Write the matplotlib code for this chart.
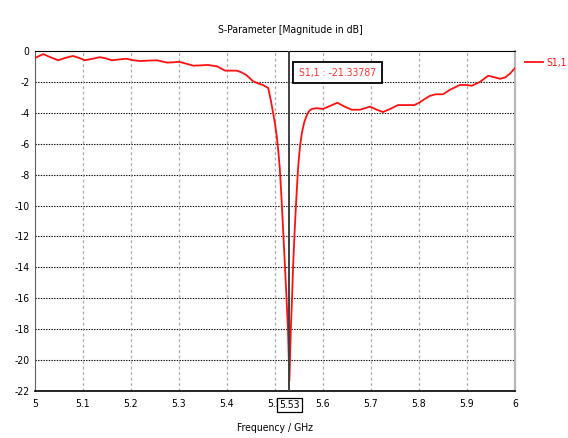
import matplotlib as mpl; mpl.use("Agg")
import matplotlib.pyplot as plt
from matplotlib.transforms import blended_transform_factory

plt.rcParams["font.family"] = ["DejaVu Sans"]
plt.rcParams["font.stretch"] = "condensed"
plt.rcParams["axes.unicode_minus"] = False

# S1,1 (GHz, dB)
freq = [5.000, 5.017, 5.032, 5.048, 5.063, 5.079, 5.092, 5.104, 5.120, 5.135,
        5.148, 5.160, 5.175, 5.190, 5.205, 5.220, 5.237, 5.254, 5.265, 5.275,
        5.288, 5.300, 5.315, 5.330, 5.345, 5.360, 5.380, 5.396, 5.410, 5.420,
        5.430, 5.440, 5.454, 5.465, 5.475, 5.486, 5.492, 5.496, 5.500, 5.504,
        5.507, 5.510, 5.5135, 5.517, 5.521, 5.524, 5.527, 5.530, 5.533, 5.5355,
        5.5375, 5.541, 5.5445, 5.548, 5.552, 5.556, 5.561, 5.567, 5.572, 5.577,
        5.5875, 5.600, 5.615, 5.630, 5.645, 5.660, 5.677, 5.698, 5.712, 5.725,
        5.740, 5.756, 5.775, 5.790, 5.800, 5.812, 5.823, 5.835, 5.850, 5.865,
        5.885, 5.900, 5.910, 5.927, 5.944, 5.957, 5.969, 5.980, 5.990, 6.000]
s11 = [-0.45, -0.2, -0.4, -0.6, -0.45, -0.32, -0.45, -0.6, -0.5, -0.4,
       -0.48, -0.6, -0.55, -0.5, -0.6, -0.65, -0.62, -0.6, -0.68, -0.75,
       -0.73, -0.7, -0.82, -0.95, -0.93, -0.9, -1.0, -1.27, -1.27, -1.27,
       -1.38, -1.55, -1.95, -2.1, -2.2, -2.4, -3.3, -4.0, -4.7, -5.6,
       -6.5, -7.6, -9.5, -11.6, -14.1, -16.0, -18.0, -21.34, -18.0, -16.0,
       -14.1, -11.6, -9.5, -7.6, -6.2, -5.3, -4.6, -4.1, -3.85, -3.75,
       -3.7, -3.75, -3.55, -3.35, -3.6, -3.8, -3.8, -3.6, -3.8, -3.95,
       -3.75, -3.5, -3.5, -3.5, -3.35, -3.1, -2.9, -2.8, -2.8, -2.5,
       -2.2, -2.2, -2.25, -2.0, -1.6, -1.7, -1.8, -1.7, -1.45, -1.1]

marker_f = 5.53
marker_val = "-21.33787"
xticks_v = [5, 5.1, 5.2, 5.3, 5.4, 5.5, 5.6, 5.7, 5.8, 5.9, 6]
xtick_lbl = ["5", "5.1", "5.2", "5.3", "5.4", "5.5", "5.6", "5.7", "5.8", "5.9", "6"]
yticks_v = list(range(0, -23, -2))

fig = plt.figure(figsize=(5.68, 4.38), dpi=100)
ax = fig.add_axes([35/568, 1-391/438, 480/568, 340/438])

ax.plot(freq, s11, color="#ff1010", lw=1.3, label="S1,1", zorder=5)
ax.axvline(marker_f, color="#404040", lw=1.4, zorder=6)

ax.set_xlim(5, 6)
ax.set_ylim(-22, 0)
ax.set_xticks(xticks_v)
ax.set_xticklabels(xtick_lbl)
ax.set_yticks(yticks_v)
ax.set_yticklabels([str(v) for v in yticks_v])
ax.tick_params(length=0, labelsize=7.5, pad=6)
ax.tick_params(axis="y", pad=4)

for y in yticks_v[1:-1]:
    ax.axhline(y, color="black", lw=0.8, ls=(0, (1.2, 1.2)), zorder=1)
for x in xticks_v[1:-1]:
    ax.axvline(x, color="#a8a8a8", lw=0.9, ls=(0, (2.2, 2.2)), zorder=1)

ax.spines["top"].set_color("black")
ax.spines["bottom"].set_color("black")
ax.spines["bottom"].set_linewidth(1.2)
ax.spines["left"].set_color("#606060")
ax.spines["right"].set_color("#b8b8b8")
ax.spines["right"].set_linewidth(1.6)

fig.text(0.511, 1-30/438, "S-Parameter [Magnitude in dB]", ha="center", va="center", fontsize=7.5)
fig.text(275/568, 1-428/438, "Frequency / GHz", ha="center", va="center", fontsize=7.5)

ax.annotate("S1,1 : " + marker_val, xy=(marker_f, 0), xycoords="data",
            xytext=(7, -12), textcoords="offset points", ha="left", va="top",
            color="#ff3030", fontsize=7.5,
            bbox=dict(boxstyle="square,pad=0.55", fc="white", ec="black", lw=1.3), zorder=8)

trans = blended_transform_factory(ax.transData, ax.transAxes)
ax.annotate("5.53", xy=(marker_f, 0), xycoords=trans, xytext=(0, -6.5),
            textcoords="offset points", ha="center", va="top", fontsize=7.5,
            bbox=dict(boxstyle="square,pad=0.2", fc="white", ec="black", lw=0.9),
            annotation_clip=False, zorder=8)

leg = ax.legend(loc="center left", bbox_to_anchor=(1.02, 0.965), frameon=False,
                handlelength=1.8, handletextpad=0.3, borderpad=0, borderaxespad=0,
                fontsize=7.5)
for t in leg.get_texts():
    t.set_color("#ff1010")

fig.savefig("out.png", dpi=100)
